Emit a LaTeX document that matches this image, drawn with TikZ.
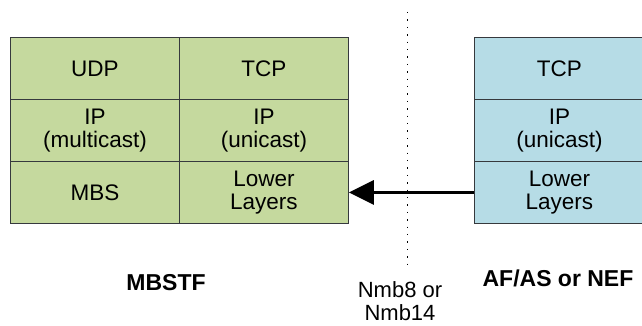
\documentclass[tikz,border=0pt]{standalone}
\usepackage{fontspec}
\setmainfont{Liberation Sans}
\usetikzlibrary{arrows.meta}
\definecolor{mgreen}{RGB}{197,217,158}
\definecolor{mblue}{RGB}{182,220,230}
\definecolor{mborder}{RGB}{54,57,61}
\begin{document}
\begin{tikzpicture}[x=1pt,y=1pt,
  cell/.style={draw=mborder,line width=0.9pt,minimum width=#1,minimum height=62pt,inner sep=0pt,
    align=center,font=\fontsize{22.5}{23.5}\selectfont,anchor=north west},
  gcell/.style={cell=169pt,fill=mgreen},
  bcell/.style={cell=170pt,fill=mblue},
  lbl/.style={font=\fontsize{22}{22.5}\selectfont,align=center,inner sep=0pt},
  blbl/.style={font=\fontsize{23}{24}\selectfont\bfseries}]
\useasboundingbox (0,0) rectangle (642,326);
% left stack (MBSTF)
\node[gcell] (udp) at (10,289) {UDP};
\node[gcell] (ltcp) at (179,289) {TCP};
\node[gcell] (ipm) at (10,227) {IP\\(multicast)};
\node[gcell] (ipu) at (179,227) {IP\\(unicast)};
\node[gcell] (mbs) at (10,165) {MBS};
\node[gcell] (lll) at (179,165) {Lower\\Layers};
% right stack (AF/AS or NEF)
\node[bcell] (rtcp) at (474,289) {TCP};
\node[bcell] (rip) at (474,227) {IP\\(unicast)};
\node[bcell] (rll) at (474,165) {Lower\\Layers};
% dotted reference point line
\coordinate (dtop) at (407.5,314);
\coordinate (dbot) at (407.5,61);
\draw[line width=1.4pt,dash pattern=on 1.4pt off 6pt] (dtop) -- (dbot);
% arrow
\draw[line width=3pt,-{Triangle[length=25pt,width=24pt]}] (rll.west) -- (lll.east);
% labels
\node[blbl] (mbstf) at (166,43) {MBSTF};
\node[blbl] (afas) at (558,48) {AF/AS or NEF};
\node[lbl] (nmb) at (400,25) {Nmb8 or\\Nmb14};
\end{tikzpicture}
\end{document}
